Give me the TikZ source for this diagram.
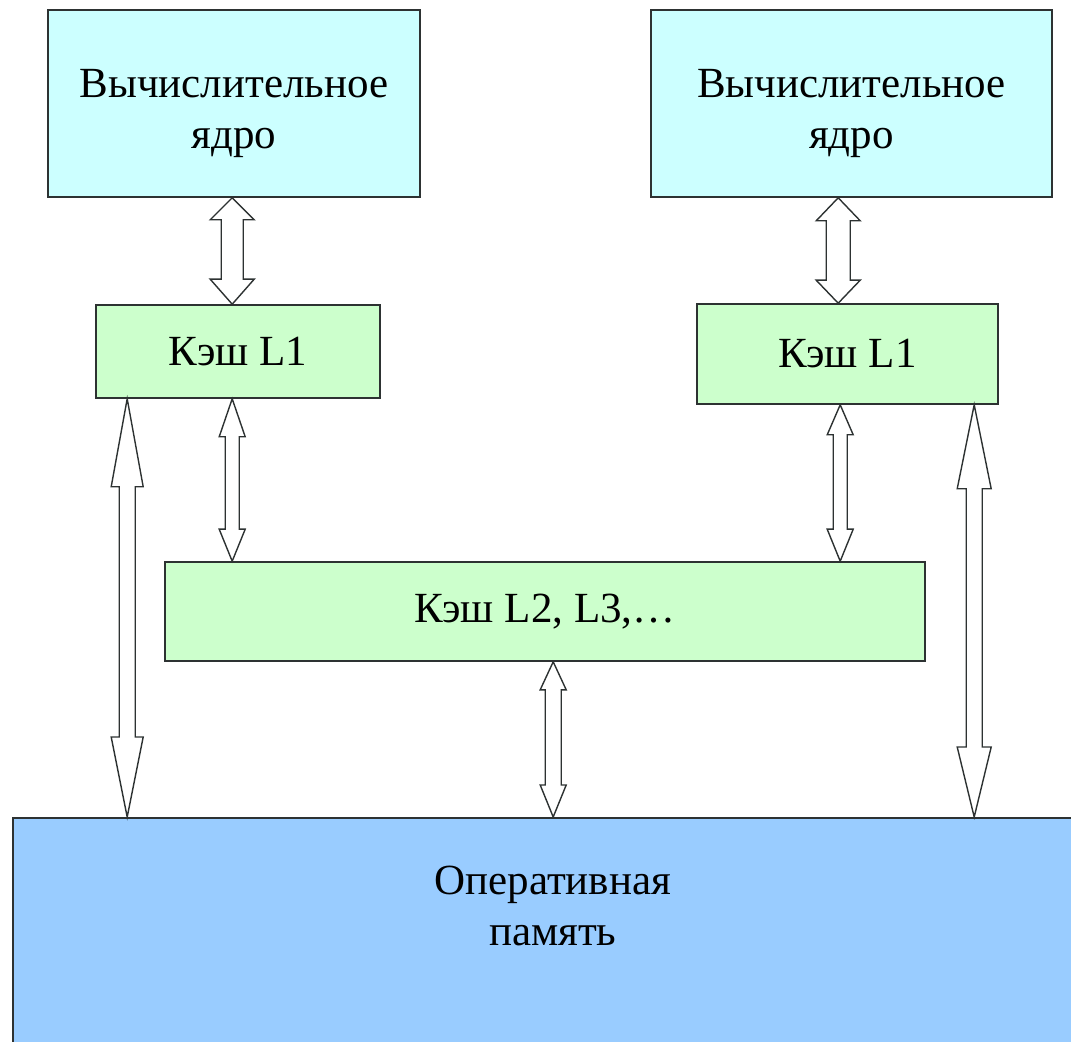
\documentclass[tikz,border=0pt]{standalone}
\usepackage{fontspec}
\setmainfont{Liberation Serif}
\usetikzlibrary{calc}
\definecolor{corecyan}{RGB}{204,255,255}
\definecolor{cachegreen}{RGB}{204,255,204}
\definecolor{memblue}{RGB}{153,204,255}
\definecolor{edgegray}{RGB}{45,50,50}
\tikzset{
  every node/.style={font=\fontsize{21.5}{25.5}\selectfont, inner sep=0pt, align=center},
  corebox/.style={fill=corecyan, draw=edgegray, line width=0.8pt},
  cachebox/.style={fill=cachegreen, draw=edgegray, line width=0.8pt},
  membox/.style={fill=memblue, draw=edgegray, line width=0.8pt},
  arrowline/.style={fill=white, draw=edgegray, line width=0.7pt, line join=miter}
}
\newcommand{\lowstrut}{\rule{0pt}{24pt}}
% hollow double arrow: top tip, bottom tip, shaft half width, head half width, top head, bottom head
\newcommand{\dblarrow}[6]{%
  \draw[arrowline] (#1) -- ++(#4,#5) -- ++(#3-#4,0) -- ($(#2)+(#3,-#6)$) -- ++(#4-#3,0)
    -- (#2) -- ++(-#4,-#6) -- ++(#4-#3,0) -- ($(#1)+(-#3,#5)$) -- ++(#3-#4,0) -- cycle;}

\begin{document}
\begin{tikzpicture}[x=0.5pt, y=-0.5pt]
  \useasboundingbox (0,0) rectangle (1071,1042);

  \node[corebox, minimum width=186pt, minimum height=93.5pt] (coreL) at (234,103.5) {\lowstrut Вычислительное\\ядро};
  \node[corebox, minimum width=200.5pt, minimum height=93.5pt] (coreR) at (851.5,103.5) {\lowstrut Вычислительное\\ядро};

  \node[cachebox, minimum width=142pt, minimum height=46.5pt] (l1L) at (238,351.5) {Кэш L1};
  \node[cachebox, minimum width=150.5pt, minimum height=50pt] (l1R) at (847.5,354) {Кэш L1};

  \node[cachebox, minimum width=380pt, minimum height=49.5pt] (l2) at (545,611.5) {Кэш L2, L3,\ldots};

  \node[membox, anchor=north west, minimum width=540pt, minimum height=150pt] (ram) at (12,817) {};
  \node (ramlabel) at ([yshift=-44.5pt]ram.north) {Оперативная\\память};

  % arrow end points
  \coordinate (a1t) at ($(coreL.south west)+(185,0)$);
  \coordinate (a1b) at (a1t |- l1L.north);
  \coordinate (a2t) at ($(coreR.south west)+(188,0)$);
  \coordinate (a2b) at (a2t |- l1R.north);
  \coordinate (a3t) at ($(l1L.south west)+(137,0)$);
  \coordinate (a3b) at (a3t |- l2.north);
  \coordinate (a4t) at ($(l1R.south west)+(144,0)$);
  \coordinate (a4b) at (a4t |- l2.north);
  \coordinate (a5t) at ($(l1L.south west)+(32,0)$);
  \coordinate (a5b) at (a5t |- ram.north);
  \coordinate (a6t) at ($(l1R.south west)+(278,0)$);
  \coordinate (a6b) at (a6t |- ram.north);
  \coordinate (a7t) at ($(l2.south west)+(389,0)$);
  \coordinate (a7b) at (a7t |- ram.north);

  \dblarrow{a1t}{a1b}{11}{22}{22}{25}
  \dblarrow{a2t}{a2b}{12}{22}{23}{23}
  \dblarrow{a3t}{a3b}{7}{13}{38}{32}
  \dblarrow{a4t}{a4b}{7}{13}{30}{32}
  \dblarrow{a5t}{a5b}{8}{16}{88}{80}
  \dblarrow{a6t}{a6b}{8}{17}{84}{70}
  \dblarrow{a7t}{a7b}{8}{13}{28}{32}
\end{tikzpicture}
\end{document}
